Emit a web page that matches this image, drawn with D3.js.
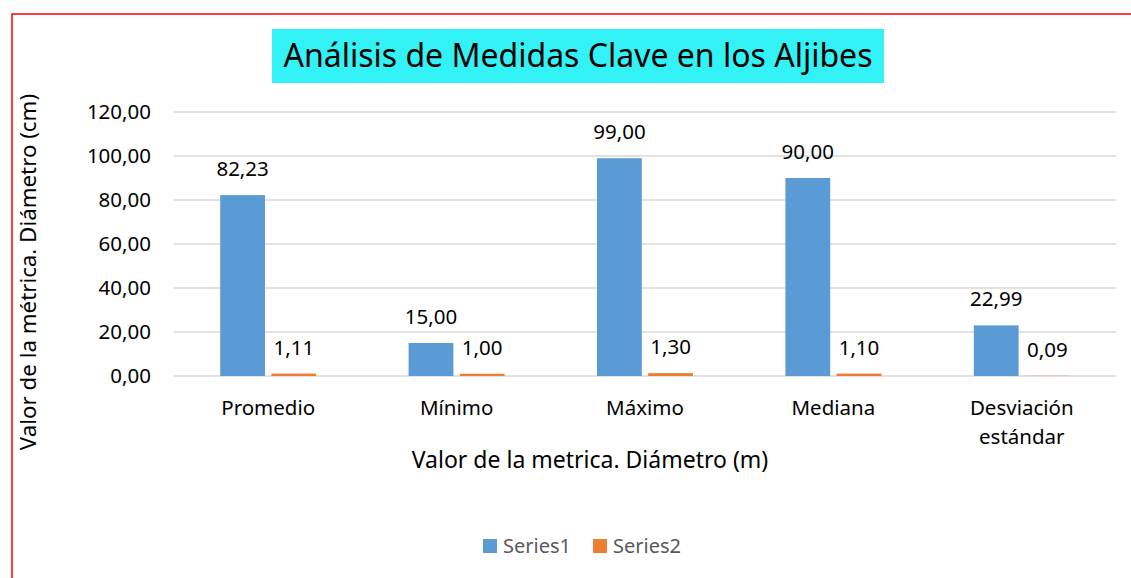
<!DOCTYPE html>
<html>
<head>
<meta charset="utf-8">
<script src="https://cdn.jsdelivr.net/npm/d3@7"></script>
<style>
  body { margin: 0; background: #fff; }
  svg text { font-family: "Noto Sans", "Open Sans", sans-serif; }
</style>
</head>
<body>
<svg id="chart"></svg>
<script>
// chart values
var categories = ["Promedio", "Mínimo", "Máximo", "Mediana", "Desviación estándar"];
var series1 = [82.23, 15.00, 99.00, 90.00, 22.99];
var series2 = [1.11, 1.00, 1.30, 1.10, 0.09];
var seriesNames = ["Series1", "Series2"];
var yTicks = [0, 20, 40, 60, 80, 100, 120];

var config = {
  w: 1131,
  h: 578,
  left: 174,
  right: 1116,
  top: 112,
  bottom: 376
};

var colors = ["#5b9bd5", "#ed7d31"];

// comma decimal like the spreadsheet
var fmt = function(v) { return d3.format(".2f")(v).replace(".", ","); };

var svg = d3.select("#chart")
  .attr("width", config.w)
  .attr("height", config.h);

// outer red frame
svg.append("rect")
  .attr("x", 12).attr("y", 14)
  .attr("width", config.w + 10).attr("height", config.h + 10)
  .attr("fill", "none")
  .attr("stroke", "#ff0000")
  .attr("stroke-width", 1.5);

var x = d3.scaleBand()
  .domain(categories)
  .range([config.left, config.right]);

var xInner = d3.scaleBand()
  .domain(seriesNames)
  .range([0, 96])
  .paddingInner(0.125);

var y = d3.scaleLinear()
  .domain([0, 120])
  .range([config.bottom, config.top]);

// gridlines
svg.append("g")
  .selectAll("line")
  .data(yTicks)
  .enter()
  .append("line")
    .attr("x1", config.left)
    .attr("x2", config.right)
    .attr("y1", function(d) { return y(d); })
    .attr("y2", function(d) { return y(d); })
    .attr("stroke", "#d9d9d9")
    .attr("stroke-width", 1.5);

// y axis labels
var yAxis = d3.axisLeft(y).tickValues(yTicks).tickFormat(fmt).tickSize(0).tickPadding(0);
var gy = svg.append("g")
  .attr("transform", "translate(151,0)")
  .call(yAxis);
gy.select(".domain").remove();
gy.selectAll("text")
  .attr("font-size", 20.5)
  .attr("fill", "#000")
  .style("font-family", "'Noto Sans', sans-serif");

// bars
var rows = categories.map(function(c, i) {
  return { cat: c, values: [series1[i], series2[i]] };
});

var groups = svg.append("g")
  .selectAll("g")
  .data(rows)
  .enter()
  .append("g")
    .attr("transform", function(d) {
      return "translate(" + (x(d.cat) + x.bandwidth() / 2 - 48) + ",0)";
    });

groups.selectAll("rect")
  .data(function(d) { return d.values.map(function(v, j) { return { s: seriesNames[j], v: v, j: j }; }); })
  .enter()
  .append("rect")
    .attr("x", function(d) { return xInner(d.s); })
    .attr("width", xInner.bandwidth())
    .attr("y", function(d) { return y(d.v); })
    .attr("height", function(d) { return y(0) - y(d.v); })
    .attr("fill", function(d) { return colors[d.j]; });

// data labels
groups.selectAll("text")
  .data(function(d) { return d.values.map(function(v, j) { return { s: seriesNames[j], v: v }; }); })
  .enter()
  .append("text")
    .attr("x", function(d) { return xInner(d.s) + xInner.bandwidth() / 2; })
    .attr("y", function(d) { return y(d.v) - 19; })
    .attr("text-anchor", "middle")
    .attr("font-size", 20.5)
    .attr("fill", "#000")
    .text(function(d) { return fmt(d.v); });

// category labels, wrapped on spaces for long ones
var catLabels = svg.append("g")
  .selectAll("text")
  .data(categories)
  .enter()
  .append("text")
    .attr("x", function(d) { return x(d) + x.bandwidth() / 2; })
    .attr("y", 415)
    .attr("text-anchor", "middle")
    .attr("font-size", 20.5)
    .attr("fill", "#000");

catLabels.each(function(d) {
  var words = d.length > 12 ? d.split(" ") : [d];
  var t = d3.select(this);
  words.forEach(function(w, i) {
    t.append("tspan")
      .attr("x", x(d) + x.bandwidth() / 2)
      .attr("dy", i === 0 ? 0 : 29)
      .text(w);
  });
});

// axis titles
svg.append("text")
  .attr("x", 590)
  .attr("y", 468)
  .attr("text-anchor", "middle")
  .attr("font-size", 23)
  .attr("fill", "#000")
  .text("Valor de la metrica. Diámetro (m)");

svg.append("text")
  .attr("transform", "translate(36,272) rotate(-90)")
  .attr("text-anchor", "middle")
  .attr("font-size", 22.3)
  .attr("fill", "#000")
  .text("Valor de la métrica. Diámetro (cm)");

// title with cyan box
svg.append("rect")
  .attr("x", 272).attr("y", 29)
  .attr("width", 612).attr("height", 54)
  .attr("fill", "#33f2f5");

svg.append("text")
  .attr("x", 578)
  .attr("y", 67)
  .attr("text-anchor", "middle")
  .attr("font-size", 32)
  .attr("fill", "#000")
  .text("Análisis de Medidas Clave en los Aljibes");

// legend
var legend = svg.append("g")
  .selectAll("g")
  .data(seriesNames)
  .enter()
  .append("g")
    .attr("transform", function(d, i) { return "translate(" + (483 + i * 110) + ",539)"; });

legend.append("rect")
  .attr("width", 14).attr("height", 14)
  .attr("fill", function(d, i) { return colors[i]; });

legend.append("text")
  .attr("x", 20)
  .attr("y", 14)
  .attr("font-size", 20)
  .attr("fill", "#595959")
  .text(function(d) { return d; });
</script>
</body>
</html>
